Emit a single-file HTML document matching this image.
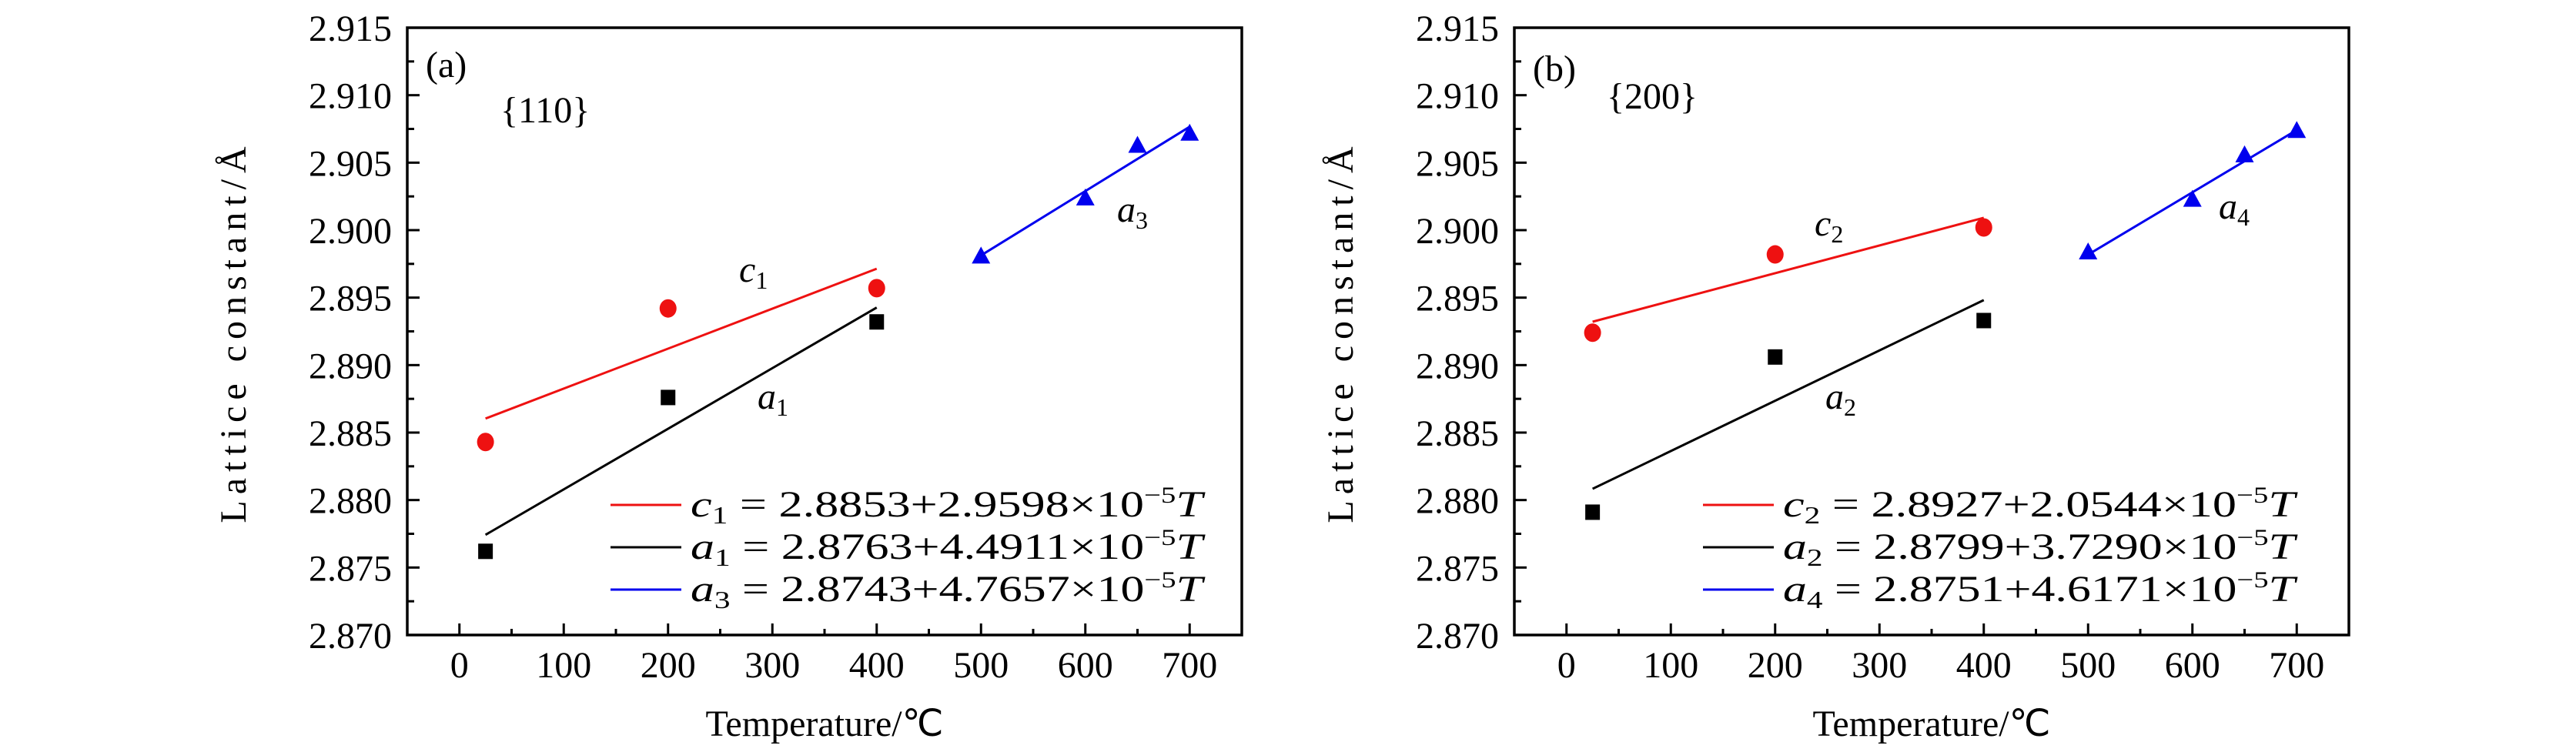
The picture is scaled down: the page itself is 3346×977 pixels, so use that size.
<!DOCTYPE html>
<html><head><meta charset="utf-8"><style>
html,body{margin:0;padding:0;background:#fff;}
svg{display:block;font-family:"Liberation Serif",serif;}
</style></head><body>
<svg id="fig" width="3346" height="977" viewBox="0 0 3346 977" xmlns="http://www.w3.org/2000/svg"></svg>
<script>
const xTicks = [0,100,200,300,400,500,600,700];
const yTicks = [2.870,2.875,2.880,2.885,2.890,2.895,2.900,2.905,2.910,2.915];
// Panel (a) {110}
const aC1T = [25,200,400];  const aC1V = [2.8843,2.8942,2.8957];
const aA1T = [25,200,400];  const aA1V = [2.8762,2.8876,2.8932];
const aA3T = [500,600,650,700]; const aA3V = [2.8981,2.9024,2.9063,2.9072];
const aFitC = [2.8853,2.9598]; const aFitA1 = [2.8763,4.4911]; const aFitA3 = [2.8743,4.7657];
// Panel (b) {200}
const bC2T = [25,200,400];  const bC2V = [2.8924,2.8982,2.9002];
const bA2T = [25,200,400];  const bA2V = [2.8791,2.8906,2.8933];
const bA4T = [500,600,650,700]; const bA4V = [2.8984,2.9023,2.9056,2.9074];
const bFitC = [2.8927,2.0544]; const bFitA2 = [2.8799,3.7290]; const bFitA4 = [2.8751,4.6171];

const NS="http://www.w3.org/2000/svg";
const svg=document.getElementById('fig');
function mk(tag,attrs,parent){const e=document.createElementNS(NS,tag);for(const k in attrs)e.setAttribute(k,attrs[k]);(parent||svg).appendChild(e);return e;}

function panel(o){
  const g=mk('g',{});
  
  
  const L=o.left,R=o.right,T=36,B=825;
  const sx=v=>L+(v+50)/800*(R-L);
  const sy=v=>B-(v-2.870)/0.045*(B-T);
  for(let i=0;i<yTicks.length;i++){
    const y=sy(yTicks[i]);
    mk('line',{x1:L,x2:L+16,y1:y,y2:y,stroke:'#000','stroke-width':3},g);
    if(i<yTicks.length-1){const ym=sy(yTicks[i]+0.0025);mk('line',{x1:L,x2:L+9,y1:ym,y2:ym,stroke:'#000','stroke-width':3},g);}
    const t=mk('text',{x:L-20,y:y+17,'font-size':48,'text-anchor':'end'},g);
    t.textContent=yTicks[i].toFixed(3);
    
    
  }
  for(let i=0;i<xTicks.length;i++){
    const x=sx(xTicks[i]);
    mk('line',{x1:x,x2:x,y1:B,y2:B-15,stroke:'#000','stroke-width':3},g);
    const xm=sx(xTicks[i]+50);mk('line',{x1:xm,x2:xm,y1:B,y2:B-8,stroke:'#000','stroke-width':3},g);
    const t=mk('text',{x:x,y:880,'font-size':48,'text-anchor':'middle'},g);
    t.textContent=xTicks[i];
    
    
  }
  const fr=mk('rect',{x:L,y:T,width:R-L,height:B-T,fill:'none',stroke:'#000','stroke-width':3.5},g);
  
  
  function fit(p,t0,t1,col,name){
    const l=mk('line',{x1:sx(t0),y1:sy(p[0]+p[1]*1e-5*t0),x2:sx(t1),y2:sy(p[0]+p[1]*1e-5*t1),stroke:col,'stroke-width':3},g);
    
    
  }
  fit(o.fitC,25,400,'#ee1111',o.cName+'-fit-line');
  fit(o.fitA,25,400,'#000',o.aName+'-fit-line');
  fit(o.fitH,500,700,'#0000ee',o.hName+'-fit-line');
  o.cT.forEach((t,i)=>{const c=mk('ellipse',{cx:sx(t),cy:sy(o.cV[i]),rx:11,ry:12,fill:'#ee1111'},g);
    
    });
  o.aT.forEach((t,i)=>{const r=mk('rect',{x:sx(t)-9.5,y:sy(o.aV[i])-10,width:19,height:20,fill:'#000'},g);
    
    });
  o.hT.forEach((t,i)=>{const x=sx(t),y=sy(o.hV[i]);
    const p=mk('polygon',{points:`${x-12},${y+10} ${x+12},${y+10} ${x},${y-12}`,fill:'#0000ee'},g);
    
    });
  function txt(html,x,y,name,size,anchor){
    const t=mk('text',{x:x,y:y,'font-size':size||46,'text-anchor':anchor||'start'},g);
    t.innerHTML=html;
    
    
    return t;}
  txt(o.tag,L+24,o.tagY,'panel-label',48);
  txt(o.plane,o.planeX,o.planeY,'crystal-plane-label',48);
  const sub=(v,n)=>`<tspan font-style="italic">${v}</tspan><tspan font-size="32" dy="9">${n}</tspan>`;
  txt(sub(o.cName[0],o.cName[1]),o.cLab[0],o.cLab[1],o.cName+'-label',48);
  txt(sub(o.aName[0],o.aName[1]),o.aLab[0],o.aLab[1],o.aName+'-label',48);
  txt(sub(o.hName[0],o.hName[1]),o.hLab[0],o.hLab[1],o.hName+'-label',48);
  const rows=[[o.cName,o.fitC,'#ee1111',656],[o.aName,o.fitA,'#000',711],[o.hName,o.fitH,'#0000ee',766]];
  rows.forEach(r=>{
    const l=mk('line',{x1:o.legX,x2:o.legX+92,y1:r[3],y2:r[3],stroke:r[2],'stroke-width':3},g);
    
    
    const t=txt(`${sub(r[0][0],r[0][1])}<tspan dy="-9"> = ${r[1][0].toFixed(4)}+${r[1][1].toFixed(4)}×10</tspan><tspan font-size="30" dy="-18">−5</tspan><tspan font-style="italic" dy="18">T</tspan>`,o.legX+104,r[3]+15,'legend-entry',48);
    t.setAttribute('textLength',665);
    t.setAttribute('lengthAdjust','spacingAndGlyphs');
  });
  txt('Temperature/℃',(L+R)/2,956,'x-axis-title',48,'middle');
  const yt=txt('Lattice constant/Å',0,0,'y-axis-title',48,'middle');
  yt.setAttribute('transform',`translate(${L-210},431) rotate(-90)`);
  yt.setAttribute('letter-spacing','8');
}
panel({id:'a',left:529,right:1613,tag:'(a)',tagY:100,plane:'{110}',planeX:650,planeY:159,
  cT:aC1T,cV:aC1V,aT:aA1T,aV:aA1V,hT:aA3T,hV:aA3V,fitC:aFitC,fitA:aFitA1,fitH:aFitA3,
  cName:'c1',aName:'a1',hName:'a3',cLab:[960,366],aLab:[984,531],hLab:[1451,288],legX:793});
panel({id:'b',left:1967,right:3051,tag:'(b)',tagY:105,plane:'{200}',planeX:2087,planeY:141,
  cT:bC2T,cV:bC2V,aT:bA2T,aV:bA2V,hT:bA4T,hV:bA4V,fitC:bFitC,fitA:bFitA2,fitH:bFitA4,
  cName:'c2',aName:'a2',hName:'a4',cLab:[2357,306],aLab:[2371,531],hLab:[2882,284],legX:2212});
</script>
</body></html>
